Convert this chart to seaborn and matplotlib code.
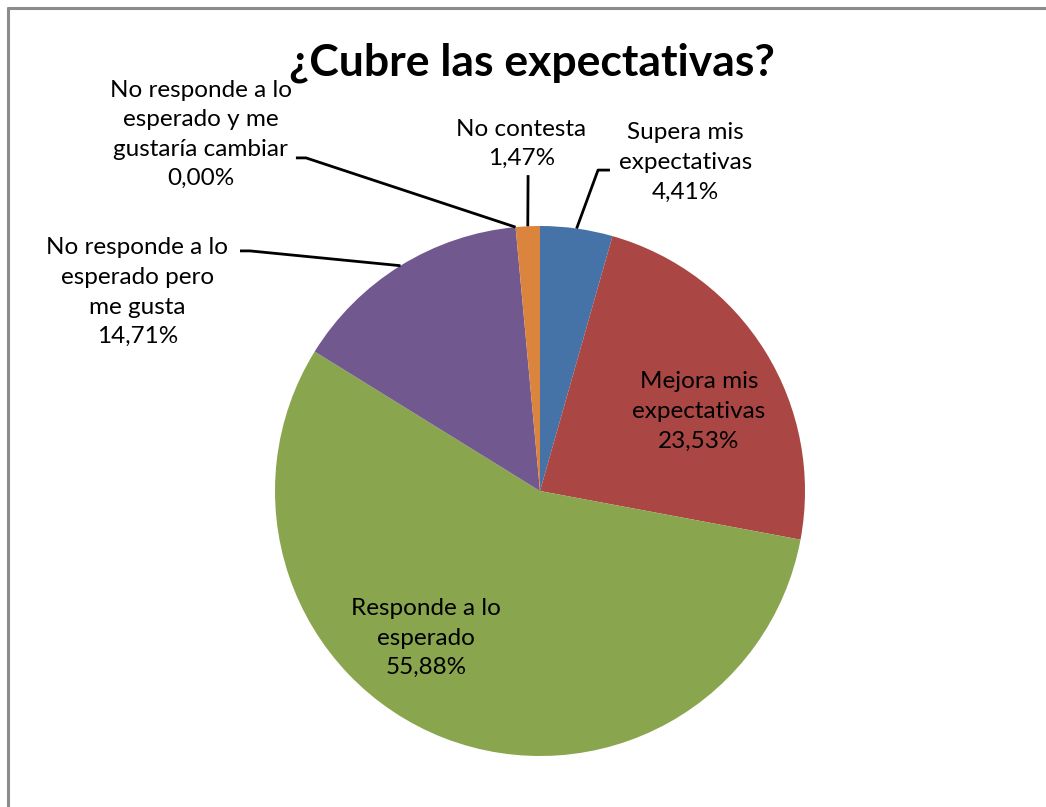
import matplotlib
matplotlib.use("Agg")
import matplotlib.pyplot as plt
from matplotlib.lines import Line2D
import seaborn as sns
import numpy as np

sns.set_style("white")
plt.rcParams["font.family"] = ["Lato", "DejaVu Sans"]

# data
categorias = [
    "Supera mis\nexpectativas",
    "Mejora mis\nexpectativas",
    "Responde a lo\nesperado",
    "No responde a lo\nesperado pero\nme gusta",
    "No responde a lo\nesperado y me\ngustaría cambiar",
    "No contesta",
]
porcentajes = [4.41, 23.53, 55.88, 14.71, 0.00, 1.47]
colores = ["#4572A7", "#AA4643", "#89A54E", "#71588F", "#4198AF", "#DB843D"]

# label placement (data units, pie radius = 1); None = inside label
pos_texto = [(0.55, 1.24), (0.60, 0.30), (-0.43, -0.555), (-1.52, 0.75), (-1.28, 1.345), (-0.07, 1.31)]
codo = [(0.219, 1.211), None, None, (-1.094, 0.906), (-0.883, 1.257), (-0.045, 1.192)]
fin = [(0.264, 1.211), None, None, (-1.132, 0.906), (-0.921, 1.257), None]

W, H = 1046, 807
fig = plt.figure(figsize=(W / 100, H / 100), dpi=100)
cx, cy, r = 540, 491, 265
ax = fig.add_axes([(cx - r) / W, (H - cy - r) / H, 2 * r / W, 2 * r / H])

wedges, _ = ax.pie(porcentajes, colors=colores, startangle=90, counterclock=False,
                   radius=1, wedgeprops=dict(linewidth=0))
ax.set_xlim(-1, 1)
ax.set_ylim(-1, 1)
ax.set_aspect("equal")
ax.axis("off")

fs = 17.5
for i, (cat, val) in enumerate(zip(categorias, porcentajes)):
    etiqueta = cat + "\n" + f"{val:.2f}".replace(".", ",") + "%"
    tx, ty = pos_texto[i]
    ax.text(tx, ty, etiqueta, ha="center", va="center", fontsize=fs,
            linespacing=1.5, color="black")
    if codo[i] is not None:
        w = wedges[i]
        ang = np.deg2rad((w.theta1 + w.theta2) / 2)
        x0, y0 = np.cos(ang), np.sin(ang)
        xs = [x0, codo[i][0]]
        ys = [y0, codo[i][1]]
        if fin[i] is not None:
            xs.append(fin[i][0])
            ys.append(fin[i][1])
        ax.plot(xs, ys, color="black", lw=2, clip_on=False, solid_capstyle="butt")

fig.text(532 / W, 1 - 63 / H, "¿Cubre las expectativas?", ha="center", va="center",
         fontsize=32, fontweight="bold", color="black")

# chart frame (only left and top edges are visible)
fig.add_artist(Line2D([8 / W, 8 / W], [0, 1 - 8 / H], color="#8c8c8c", lw=2.2))
fig.add_artist(Line2D([8 / W, 1], [1 - 8 / H, 1 - 8 / H], color="#8c8c8c", lw=2.2))

fig.savefig("out.png", dpi=100, facecolor="white")
